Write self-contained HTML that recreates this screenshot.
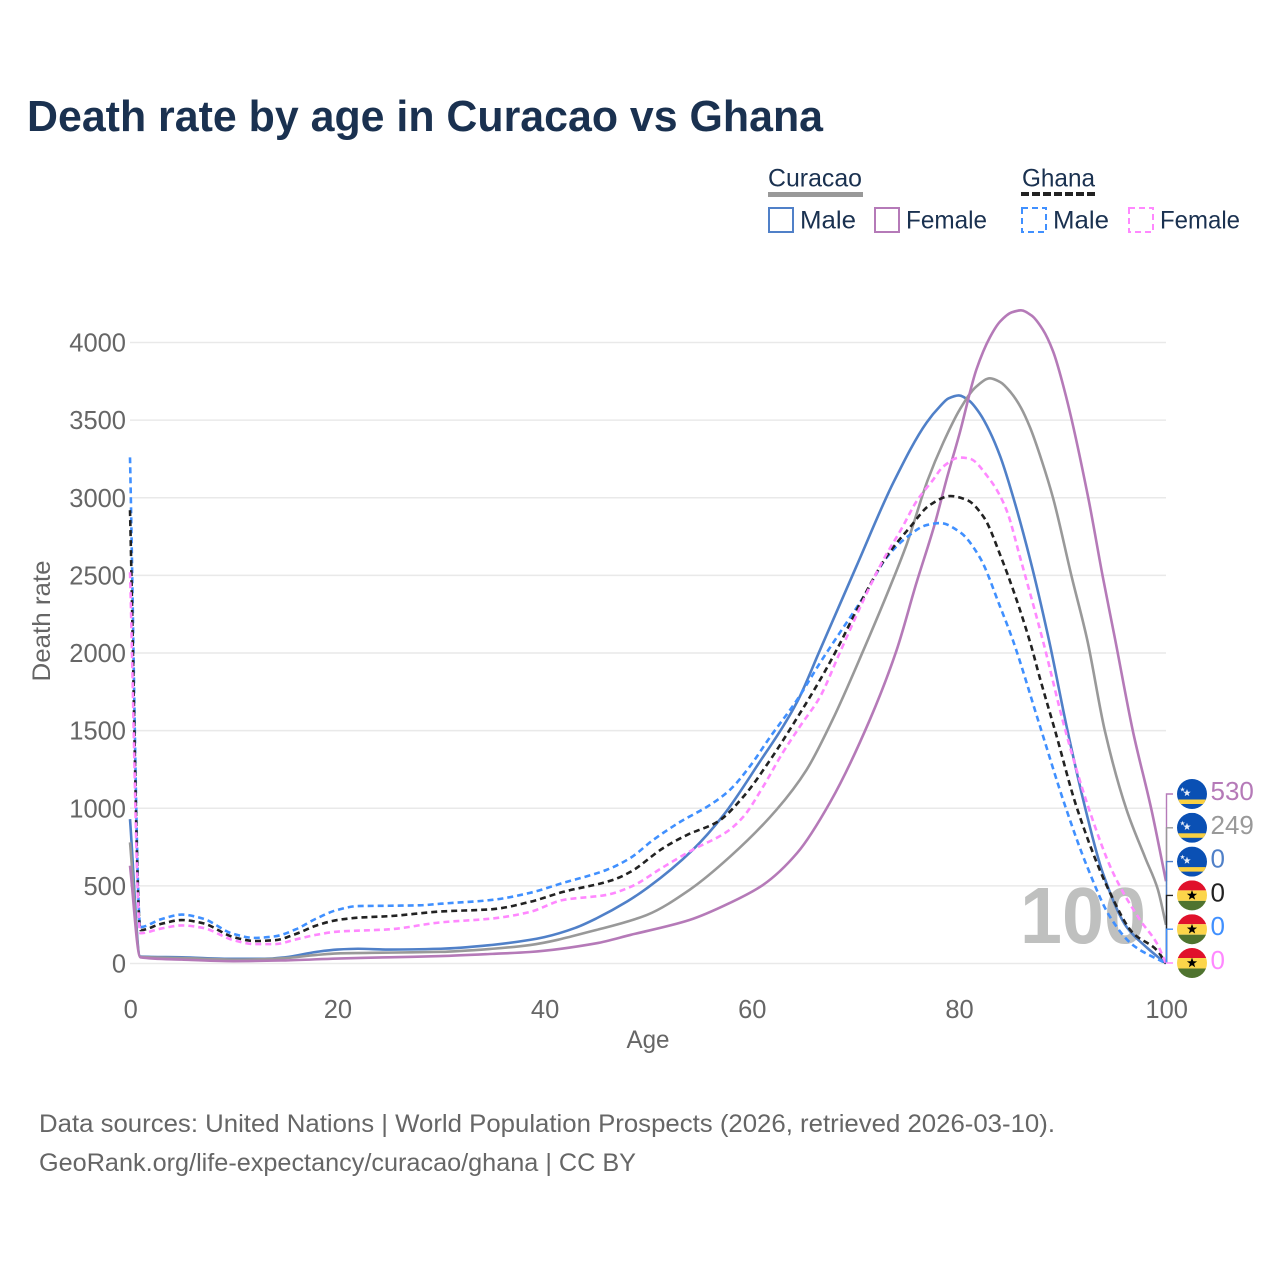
<!DOCTYPE html>
<html lang="en">
<head>
<meta charset="utf-8">
<title>Death rate by age in Curacao vs Ghana</title>
<style>
html,body{margin:0;padding:0;background:#fff;}
body{width:1280px;height:1280px;overflow:hidden;}
svg{display:block;font-family:"Liberation Sans",sans-serif;}
</style>
</head>
<body>
<svg id="chart" width="1280" height="1280" viewBox="0 0 1280 1280" xmlns="http://www.w3.org/2000/svg">
  <rect width="1280" height="1280" fill="#fff"/>
  <text x="27" y="131" font-size="44" font-weight="700" fill="#1a3150" textLength="796" lengthAdjust="spacingAndGlyphs">Death rate by age in Curacao vs Ghana</text>

  <g font-size="25" fill="#1a3150">
    <text x="768" y="186.5" textLength="94" lengthAdjust="spacingAndGlyphs">Curacao</text>
    <rect x="768" y="192" width="95" height="5" fill="#999"/>
    <text x="1022" y="186.5" textLength="73" lengthAdjust="spacingAndGlyphs">Ghana</text>
    <line x1="1021" x2="1095" y1="194" y2="194" stroke="#222" stroke-width="4" stroke-dasharray="8 3"/>

    <rect x="769" y="208" width="24" height="24" fill="none" stroke="#5080c8" stroke-width="2"/>
    <text x="800" y="228.5" textLength="56" lengthAdjust="spacingAndGlyphs">Male</text>
    <rect x="875" y="208" width="24" height="24" fill="none" stroke="#b57ab8" stroke-width="2"/>
    <text x="906" y="228.5" textLength="81" lengthAdjust="spacingAndGlyphs">Female</text>
    <rect x="1022" y="208" width="24" height="24" fill="none" stroke="#4090ff" stroke-width="2" stroke-dasharray="6 4"/>
    <text x="1053" y="228.5" textLength="56" lengthAdjust="spacingAndGlyphs">Male</text>
    <rect x="1129" y="208" width="24" height="24" fill="none" stroke="#ff88ff" stroke-width="2" stroke-dasharray="6 4"/>
    <text x="1160" y="228.5" textLength="80" lengthAdjust="spacingAndGlyphs">Female</text>
  </g>

  <g id="grid"></g>
  <g id="yticks" font-size="25.5" fill="#666" text-anchor="end"></g>
  <g id="xticks" font-size="25.5" fill="#666" text-anchor="middle"></g>
  <text transform="translate(50 621) rotate(-90)" font-size="25" fill="#666" text-anchor="middle" textLength="121" lengthAdjust="spacingAndGlyphs">Death rate</text>
  <text x="648" y="1048" font-size="25" fill="#666" text-anchor="middle" textLength="43" lengthAdjust="spacingAndGlyphs">Age</text>

  <text x="1083" y="943" font-size="80" font-weight="700" fill="#bfc0bf" text-anchor="middle" textLength="126" lengthAdjust="spacingAndGlyphs">100</text>

  <g id="series"></g>
  <g id="connectors"></g>
  <g id="ends"></g>

  <g font-size="25" fill="#666">
    <text x="39" y="1132" textLength="1016" lengthAdjust="spacingAndGlyphs">Data sources: United Nations | World Population Prospects (2026, retrieved 2026-03-10).</text>
    <text x="39" y="1171" textLength="597" lengthAdjust="spacingAndGlyphs">GeoRank.org/life-expectancy/curacao/ghana | CC BY</text>
  </g>
</svg>
<script>
const yTickValues = [0, 500, 1000, 1500, 2000, 2500, 3000, 3500, 4000];
const xTickValues = [0, 20, 40, 60, 80, 100];

const curacaoMaleAges = [0,1,5,10,13,15,18,20,22,25,30,35,38.6,40,43,45,48,50,54.3,57.3,60.5,64.4,66.6,70.1,73.7,76.9,78.2,79,80,81,82,83,84,85,86.9,88.7,90.5,92.2,93.9,96.2,98.2,100];
const curacaoMaleValues = [930,45,40,30,30,40,75,90,95,90,95,120,152,170,230,290,400,490,731,957,1270,1686,2019,2556,3100,3485,3590,3640,3659,3625,3545,3425,3266,3060,2599,2084,1498,1002,583,235,100,0];

const curacaoTotalAges = [0,1,5,10,13,15,18,20,25,30,35,38.6,45,49.9,54,57.9,62.4,65.3,67.8,70.8,73.5,75,77,78.5,80.1,81.7,83,84,85,86,86.9,88,89.1,90.9,92.4,94.1,96.2,98,99.2,100];
const curacaoTotalValues = [780,42,35,25,28,35,55,65,70,75,95,119,216,313,474,687,990,1247,1568,2019,2449,2706,3114,3355,3569,3717,3769,3745,3680,3580,3449,3240,2998,2490,2084,1498,989,680,480,249];

const curacaoFemaleAges = [0,1,5,10,15,20,25,30,35,38.6,45,48.3,54,57.9,61.1,64.4,67.6,71.4,74,75.9,77.7,78.8,80.1,81.7,83,84,85.1,86,87,88.1,89.1,90.4,92.5,93.9,95.1,96.8,98.6,100];
const curacaoFemaleValues = [630,40,25,15,20,32,40,48,62,74,130,184,280,390,506,712,1041,1568,2019,2449,2836,3114,3420,3826,4033,4136,4194,4207,4175,4084,3943,3640,2998,2490,2084,1498,989,530];

const ghanaMaleAges = [0,1,3,5,7,10,12,14,16,18,20,22,25,28,30,35,38.6,41.8,46,48.3,50.5,53.1,56,57.9,59.8,61.8,64.4,66.6,68.5,70.8,73,75,76.9,78.2,80.1,82,84,85.2,87.8,90.3,92.4,94.6,96.8,100];
const ghanaMaleValues = [3260,235,285,315,290,190,165,175,220,290,345,370,372,375,385,410,455,519,603,680,796,912,1022,1118,1267,1460,1699,1936,2129,2361,2612,2747,2824,2837,2779,2619,2296,2086,1536,1008,622,300,119,0];

const ghanaTotalAges = [0,1,3,5,7,10,12,14,16,18,20,22,25,30,35,38.6,41.8,46.6,48.3,51.5,53.8,56.7,59.2,61.8,64.4,66.6,68.2,70.5,73,75.3,77.2,79.2,80.8,82.4,84,86.9,87.8,89.3,91.4,94.6,96.8,99.1,100];
const ghanaTotalValues = [2920,215,255,280,260,170,145,150,190,245,280,295,305,335,350,397,461,538,590,745,829,912,1074,1312,1583,1826,2019,2322,2619,2811,2953,3011,2985,2876,2631,2066,1845,1498,1002,455,197,87,0];

const ghanaFemaleAges = [0,1,3,5,7,10,12,14,16,18,20,25,30,35,38.6,41.8,46,48.3,51.5,54.3,57.6,59.2,61.1,63,64.8,66.6,68.5,70.8,72.7,74.4,76,77.5,78.5,80.1,81,83,84,84.7,85.9,88.1,90.3,92.5,94.9,97.5,99.1,100];
const ghanaFemaleValues = [2520,195,225,245,230,150,125,125,155,185,205,220,265,290,332,409,442,493,622,732,848,945,1138,1357,1540,1717,2000,2341,2599,2792,2985,3114,3201,3259,3253,3117,3010,2904,2620,2084,1498,1008,583,280,132,0];

const seriesNames = ['curacao-male','curacao-total','curacao-female','ghana-male','ghana-total','ghana-female'];
const seriesAges = [curacaoMaleAges,curacaoTotalAges,curacaoFemaleAges,ghanaMaleAges,ghanaTotalAges,ghanaFemaleAges];
const seriesValues = [curacaoMaleValues,curacaoTotalValues,curacaoFemaleValues,ghanaMaleValues,ghanaTotalValues,ghanaFemaleValues];
const seriesColors = ['#5080c8','#999999','#b57ab8','#4090ff','#222222','#ff88ff'];
const seriesDashed = [false,false,false,true,true,true];

const endOrder = ['curacao-female','curacao-total','curacao-male','ghana-total','ghana-male','ghana-female'];

const NS = 'http://www.w3.org/2000/svg';
const xScale = a => 130 + a * 10.36;
const yScale = v => 963.5 - v * 0.15525;

function make(tag, parent, attrs) {
  const el = document.createElementNS(NS, tag);
  for (const k in attrs) el.setAttribute(k, attrs[k]);
  parent.appendChild(el);
  return el;
}

function monotonePath(xs, ys) {
  const n = xs.length, dx = [], m = [], t = [];
  for (let i = 0; i < n - 1; i++) { dx[i] = xs[i+1] - xs[i]; m[i] = (ys[i+1] - ys[i]) / dx[i]; }
  t[0] = m[0]; t[n-1] = m[n-2];
  for (let i = 1; i < n - 1; i++) {
    if (m[i-1] * m[i] <= 0) { t[i] = 0; continue; }
    const w1 = 2 * dx[i] + dx[i-1], w2 = dx[i] + 2 * dx[i-1];
    t[i] = (w1 + w2) / (w1 / m[i-1] + w2 / m[i]);
  }
  let d = 'M' + xs[0].toFixed(2) + ' ' + ys[0].toFixed(2);
  for (let i = 0; i < n - 1; i++) {
    const h = dx[i] / 3;
    d += 'C' + (xs[i] + h).toFixed(2) + ' ' + (ys[i] + t[i] * h).toFixed(2) + ' ' +
         (xs[i+1] - h).toFixed(2) + ' ' + (ys[i+1] - t[i+1] * h).toFixed(2) + ' ' +
         xs[i+1].toFixed(2) + ' ' + ys[i+1].toFixed(2);
  }
  return d;
}

const gridG = document.getElementById('grid');
const yG = document.getElementById('yticks');
yTickValues.forEach(v => {
  const line = make('line', gridG, {x1: 130, x2: 1166, y1: yScale(v), y2: yScale(v), stroke: '#e9e9e9', 'stroke-width': 1.5});
  
  
  const label = make('text', yG, {x: 126, y: yScale(v) + 9});
  
  
  label.textContent = v;
});

const xG = document.getElementById('xticks');
xTickValues.forEach(a => {
  const label = make('text', xG, {x: xScale(a) + 0.7, y: 1018});
  
  
  label.textContent = a;
});

const seriesG = document.getElementById('series');
seriesNames.forEach((name, i) => {
  const d = monotonePath(seriesAges[i].map(xScale), seriesValues[i].map(yScale));
  const attrs = {d: d, fill: 'none', stroke: seriesColors[i], 'stroke-width': 2.6, 'stroke-linejoin': 'round'};
  if (seriesDashed[i]) attrs['stroke-dasharray'] = '6 4';
  const path = make('path', seriesG, attrs);
  
  
});

const connG = document.getElementById('connectors');
const endsG = document.getElementById('ends');
const STAR = '0,-5.6 1.4,-1.8 5.4,-1.7 2.2,0.7 3.3,4.5 0,2.3 -3.3,4.5 -2.2,0.7 -5.4,-1.7 -1.4,-1.8';

function drawFlag(parent, cy, country) {
  const cx = 1192, r = 15;
  const clipId = 'clip-' + Math.round(cy);
  const cp = make('clipPath', parent, {id: clipId});
  make('circle', cp, {cx: cx, cy: cy, r: r});
  const g = make('g', parent, {'clip-path': 'url(#' + clipId + ')'});
  
  
  if (country === 'curacao') {
    make('rect', g, {x: cx - r, y: cy - r, width: 2 * r, height: 30, fill: '#0a50b4'});
    make('rect', g, {x: cx - r, y: cy + 5.5, width: 2 * r, height: 4.5, fill: '#f9d042'});
    make('polygon', g, {points: STAR, transform: 'translate(' + (cx - 5) + ' ' + (cy - 1) + ') scale(.7)', fill: '#e8eef8'});
    make('polygon', g, {points: STAR, transform: 'translate(' + (cx - 9.5) + ' ' + (cy - 4.5) + ') scale(.45)', fill: '#e8eef8'});
  } else {
    make('rect', g, {x: cx - r, y: cy - r, width: 2 * r, height: 10, fill: '#e0112b'});
    make('rect', g, {x: cx - r, y: cy - 5, width: 2 * r, height: 10.5, fill: '#fcd54a'});
    make('rect', g, {x: cx - r, y: cy + 5.5, width: 2 * r, height: 10, fill: '#4f732f'});
    make('polygon', g, {points: STAR, transform: 'translate(' + cx + ' ' + cy + ') scale(.95)', fill: '#000'});
  }
}

endOrder.forEach((name, slot) => {
  const i = seriesNames.indexOf(name);
  const vals = seriesValues[i];
  const last = vals[vals.length - 1];
  const labelY = 794 + slot * 33.8;
  const conn = make('path', connG, {
    d: 'M1166.5 ' + yScale(last).toFixed(1) + 'V' + labelY + 'H1173',
    fill: 'none', stroke: seriesColors[i], 'stroke-width': 1.4
  });
  
  
  drawFlag(endsG, labelY, name.split('-')[0]);
  const label = make('text', endsG, {x: 1210.5, y: labelY + 6, 'font-size': 26, fill: seriesColors[i]});
  
  
  label.textContent = last;
});
</script>
</body>
</html>
